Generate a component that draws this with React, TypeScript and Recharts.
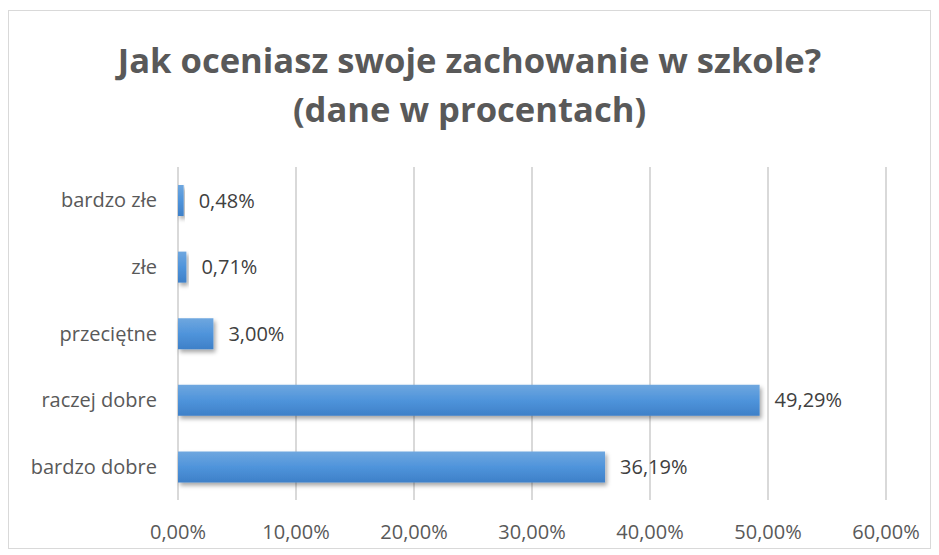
import React from 'react'
import { BarChart, Bar, XAxis, YAxis, CartesianGrid, LabelList } from 'recharts'

const categories = ['bardzo złe', 'złe', 'przeciętne', 'raczej dobre', 'bardzo dobre']
const percentages = [0.48, 0.71, 3.0, 49.29, 36.19]
const xTicks = [0, 10, 20, 30, 40, 50, 60]

const data = categories.map((name, i) => ({ name, value: percentages[i] }))

const fmt = (v: number) => `${v.toFixed(2).replace('.', ',')}%`

const FONT = '"Open Sans", "DejaVu Sans", sans-serif'

export default function App() {
  return (
    <div
      style={{
        position: 'relative',
        width: 921,
        height: 537,
        marginTop: 2,
        border: '1px solid #d9d9d9',
        background: '#fff',
        fontFamily: FONT,
      }}
    >
      <div
        style={{
          position: 'absolute',
          left: 0,
          right: 0,
          top: 24,
          textAlign: 'center',
          color: '#595959',
          fontWeight: 700,
          fontSize: 34.6,
          lineHeight: '49px',
        }}
      >
        Jak oceniasz swoje zachowanie w szkole?
        <br />
        (dane w procentach)
      </div>
      <BarChart
        width={921}
        height={537}
        data={data}
        layout="vertical"
        margin={{ top: 156, right: 44, bottom: 8, left: 0 }}
        barCategoryGap={0}
      >
        <defs>
          <linearGradient id="barFill" x1="0" y1="0" x2="0" y2="1">
            <stop offset="0%" stopColor="#6fa7df" />
            <stop offset="50%" stopColor="#4f94db" />
            <stop offset="100%" stopColor="#3e80c8" />
          </linearGradient>
          <filter id="barShadow" x="-10%" y="-20%" width="130%" height="160%">
            <feDropShadow dx="2" dy="3" stdDeviation="2" floodColor="#000" floodOpacity="0.35" />
          </filter>
        </defs>
        <CartesianGrid horizontal={false} stroke="#d9d9d9" strokeWidth={2} />
        <XAxis
          type="number"
          domain={[0, 60]}
          ticks={xTicks}
          tickFormatter={fmt}
          axisLine={false}
          tickLine={false}
          height={40}
          tickMargin={19}
          tick={{ fill: '#595959', fontSize: 20, fontFamily: FONT }}
        />
        <YAxis
          type="category"
          dataKey="name"
          width={169}
          axisLine={false}
          tickLine={false}
          tickSize={0}
          tickMargin={21}
          tick={{ fill: '#595959', fontSize: 20, fontFamily: FONT }}
        />
        <Bar
          dataKey="value"
          fill="url(#barFill)"
          barSize={31}
          filter="url(#barShadow)"
          isAnimationActive={false}
        >
          <LabelList
            dataKey="value"
            position="right"
            offset={15}
            formatter={(v: any) => fmt(Number(v))}
            style={{ fill: '#404040', fontSize: 20, fontFamily: FONT }}
          />
        </Bar>
      </BarChart>
    </div>
  )
}
